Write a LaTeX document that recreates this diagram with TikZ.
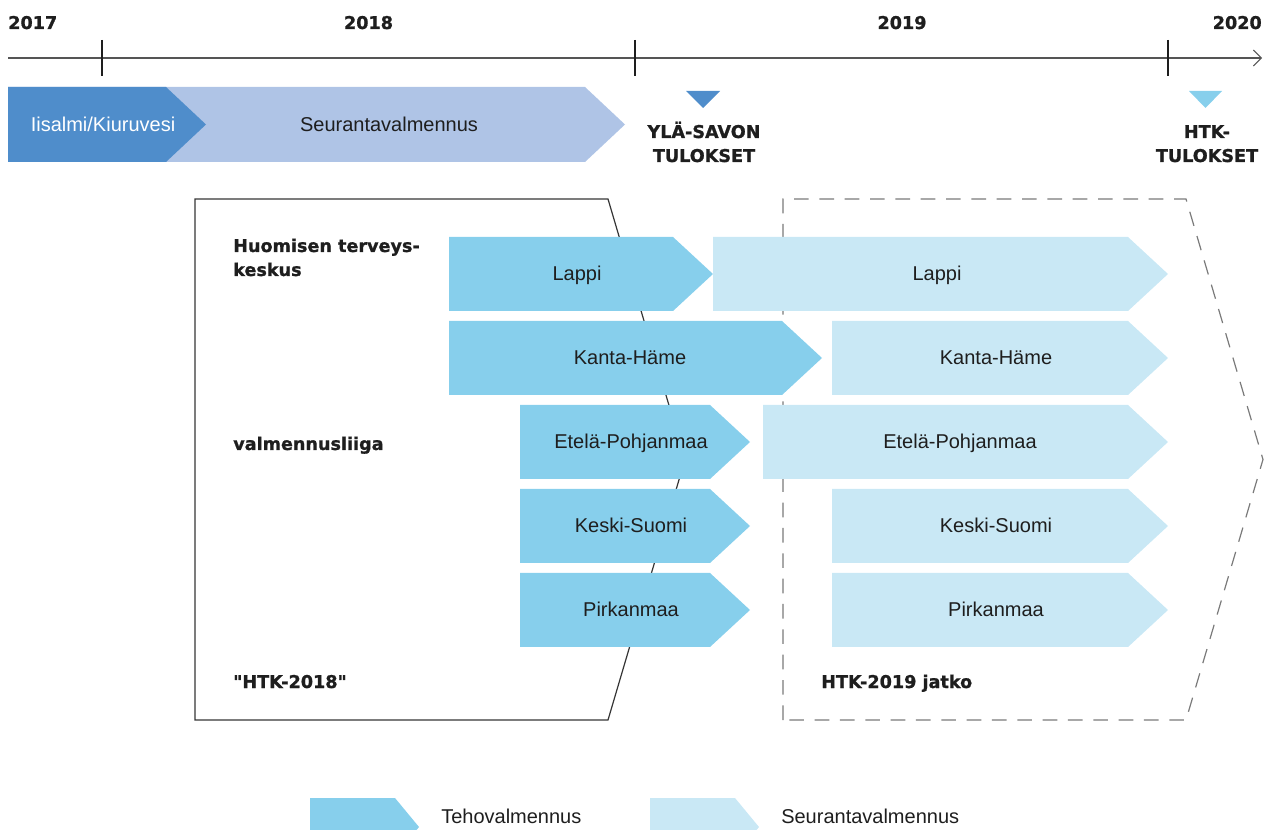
\documentclass[tikz,border=0pt]{standalone}
\usepackage{fontspec}
\setmainfont{Liberation Sans}
\newfontfamily\headfont[BoldFeatures={FakeBold=1.1}]{DejaVu Sans}
\usetikzlibrary{arrows.meta}

\definecolor{ink}{HTML}{1E1E1E}
\definecolor{axisgray}{HTML}{555555}
\definecolor{pilotblue}{HTML}{4F8DCB}
\definecolor{pilotlight}{HTML}{AFC4E6}
\definecolor{tehoblue}{HTML}{87CFEC}
\definecolor{seurantablue}{HTML}{C9E8F5}
\definecolor{dashgray}{HTML}{7A7A7A}

% filled bar with a pointed right end: style, left x, x where the point starts, top y, bottom y
\newcommand{\stagebar}[5]{%
  \fill[#1] (#2,#4) -- (#3,#4) -- ({#3+40},{(#4+#5)/2}) -- (#3,#5) -- (#2,#5) -- cycle;}

\begin{document}
\begin{tikzpicture}[x=0.75pt,y=-0.75pt,
  lbl/.style={font=\fontsize{15}{18}\selectfont, text=ink, anchor=base, inner sep=0pt},
  head/.style={font=\headfont\bfseries\fontsize{13.2}{18}\selectfont, text=ink, anchor=base west, inner sep=0pt},
  year/.style={font=\headfont\bfseries\fontsize{13.2}{18}\selectfont, text=ink, anchor=base, inner sep=0pt},
  tick/.style={draw=ink, line width=0.8pt},
  phasebox/.style={draw=ink!90, line width=0.9pt, line join=miter},
  contbox/.style={draw=dashgray, line width=0.9pt, dash pattern=on 11pt off 8pt}]
\useasboundingbox (0,0) rectangle (1265,830);
\clip (0,0) rectangle (1265,830);

% ---- time axis ----
\coordinate (axisstart) at (8,58);
\coordinate (axisend) at (1262,58);
\draw[axisgray, line width=0.8pt, -{Straight Barb[length=6pt,width=12pt,line width=0.7pt]}] (axisstart) -- (axisend);
\foreach \tx in {102,635,1168} \draw[tick] (\tx,40) -- (\tx,76);
\node[year, anchor=base west] (y2017) at (8,29) {2017};
\node[year] (y2018) at (368.5,29) {2018};
\node[year] (y2019) at (902,29) {2019};
\node[year, anchor=base east] (y2020) at (1262,29) {2020};

% ---- pilot ----
\stagebar{pilotlight}{8}{585}{87}{162}
\stagebar{pilotblue}{8}{166}{87}{162}
\node[lbl, text=white] (pilot) at (103,132) {Iisalmi/Kiuruvesi};
\node[lbl] (pilotfollow) at (389,132) {Seurantavalmennus};

% ---- result markers ----
\fill[pilotblue] (686,91) -- (720,91) -- (703,108) -- cycle;
\fill[tehoblue] (1189,91) -- (1222,91) -- (1205.5,108) -- cycle;
\node[year] (res1a) at (704,138) {YLÄ-SAVON};
\node[year] (res1b) at (704,162) {TULOKSET};
\node[year] (res2a) at (1207,138) {HTK-};
\node[year] (res2b) at (1207,162) {TULOKSET};

% ---- project frames ----
\draw[phasebox] (195,199) -- (608,199) -- (685,459.5) -- (608,720) -- (195,720) -- cycle;
\draw[contbox] (783,720) -- (783,199) -- (1186,199) -- (1263,459.5) -- (1186,720) -- cycle;

\node[head] (htk1) at (233,252) {Huomisen terveys-};
\node[head] (htk2) at (233,276) {keskus};
\node[head] (liiga) at (233,450) {valmennusliiga};
\node[head] (htk18) at (233,688) {"HTK-2018"};
\node[head] (htk19) at (821,688) {HTK-2019 jatko};

% ---- regional coaching bars ----
% row 1
\stagebar{tehoblue}{449}{673}{237}{311}
\stagebar{seurantablue}{713}{1128}{237}{311}
\node[lbl] (lappiA) at (577,281) {Lappi};
\node[lbl] (lappiB) at (937,281) {Lappi};
% row 2
\stagebar{tehoblue}{449}{782}{321}{395}
\stagebar{seurantablue}{832}{1128}{321}{395}
\node[lbl] (khA) at (630,365) {Kanta-Häme};
\node[lbl] (khB) at (996,365) {Kanta-Häme};
% row 3
\stagebar{tehoblue}{520}{710}{405}{479}
\stagebar{seurantablue}{763}{1128}{405}{479}
\node[lbl] (epA) at (631,449) {Etelä-Pohjanmaa};
\node[lbl] (epB) at (960,449) {Etelä-Pohjanmaa};
% row 4
\stagebar{tehoblue}{520}{710}{489}{563}
\stagebar{seurantablue}{832}{1128}{489}{563}
\node[lbl] (ksA) at (631,533) {Keski-Suomi};
\node[lbl] (ksB) at (996,533) {Keski-Suomi};
% row 5
\stagebar{tehoblue}{520}{710}{573}{647}
\stagebar{seurantablue}{832}{1128}{573}{647}
\node[lbl] (piA) at (631,617) {Pirkanmaa};
\node[lbl] (piB) at (996,617) {Pirkanmaa};

% ---- legend ----
\fill[tehoblue] (310,798) -- (395,798) -- (419,827) -- (395,856) -- (310,856) -- cycle;
\fill[seurantablue] (650,798) -- (735,798) -- (759,827) -- (735,856) -- (650,856) -- cycle;
\node[lbl, anchor=base west] (legteho) at (441,823) {Tehovalmennus};
\node[lbl, anchor=base west] (legseur) at (781,823) {Seurantavalmennus};
\end{tikzpicture}
\end{document}
